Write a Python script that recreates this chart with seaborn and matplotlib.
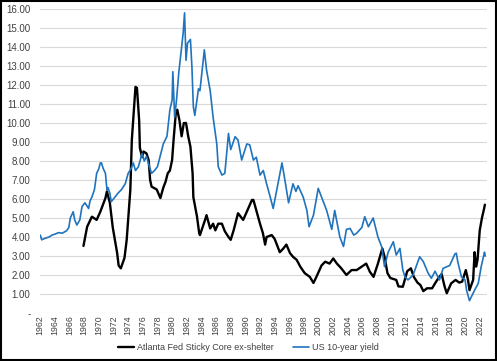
import numpy as np
import pandas as pd
import matplotlib
matplotlib.use('Agg')
import matplotlib.pyplot as plt
import seaborn as sns
from matplotlib.ticker import FuncFormatter, MultipleLocator
from matplotlib.patches import Rectangle

# Atlanta Fed Sticky Core ex-shelter
core_ano = [1967.9, 1968.4, 1969.05, 1969.7, 1970.2, 1970.9, 1971.1, 1971.5, 1971.9, 1972.5,
            1972.7, 1973.0, 1973.5, 1973.8, 1974.3, 1974.5, 1975.0, 1975.2, 1975.5, 1975.6,
            1975.9, 1976.1, 1976.5, 1976.8, 1977.0, 1977.2, 1977.9, 1978.4, 1978.8, 1979.1,
            1979.4, 1979.7, 1980.0, 1980.2, 1980.5, 1980.7, 1981.0, 1981.3, 1981.6, 1981.9,
            1982.2, 1982.5, 1982.8, 1982.9, 1983.4, 1983.7, 1983.8, 1984.5, 1984.7, 1985.2,
            1985.6, 1985.9, 1986.3, 1986.8, 1987.2, 1987.7, 1988.0, 1988.4, 1989.0, 1989.7,
            1990.2, 1990.9, 1991.1, 1991.5, 1992.0, 1992.4, 1992.7, 1992.9, 1993.6, 1994.0,
            1994.7, 1995.2, 1995.6, 1996.1, 1996.5, 1997.0, 1997.5, 1998.1, 1998.8, 1999.3,
            1999.7, 2000.4, 2000.9, 2001.5, 2002.0, 2002.5, 2003.1, 2003.8, 2004.5, 2005.2,
            2005.9, 2006.5, 2007.0, 2007.5, 2008.1, 2008.7, 2009.0, 2009.4, 2009.8, 2010.6,
            2010.9, 2011.5, 2012.1, 2012.6, 2013.0, 2013.5, 2013.9, 2014.3, 2014.8, 2015.5,
            2015.9, 2016.3, 2016.8, 2017.2, 2017.5, 2018.1, 2018.7, 2019.2, 2019.6, 2020.1,
            2020.4, 2020.6, 2021.1, 2021.3, 2021.5, 2021.7, 2022.0, 2022.3, 2022.6, 2022.7]
core_val = [3.53, 4.54, 5.07, 4.9, 5.33, 6.05, 6.4, 5.8, 4.5, 3.15,
            2.5, 2.35, 2.9, 3.85, 6.5, 9.1, 11.9, 11.85, 10.15, 8.7,
            8.2, 8.5, 8.4, 8.05, 7.0, 6.65, 6.5, 6.05, 6.6, 6.9,
            7.35, 7.5, 8.05, 9.1, 10.5, 10.7, 10.15, 9.3, 10.0, 10.0,
            9.3, 8.75, 7.35, 6.1, 5.07, 4.2, 4.1, 4.9, 5.15, 4.45,
            4.7, 4.35, 4.7, 4.7, 4.3, 4.0, 3.85, 4.35, 5.25, 4.9,
            5.33, 5.95, 5.95, 5.4, 4.7, 4.2, 3.6, 4.0, 4.1, 3.9,
            3.2, 3.4, 3.6, 3.15, 2.96, 2.8, 2.44, 2.1, 1.9, 1.58,
            1.9, 2.5, 2.7, 2.6, 2.87, 2.6, 2.35, 2.0, 2.26, 2.26,
            2.44, 2.6, 2.17, 1.9, 2.6, 3.4, 2.97, 2.1, 1.84, 1.74,
            1.4, 1.38, 2.2, 2.35, 1.9, 1.6, 1.47, 1.15, 1.3, 1.3,
            1.56, 1.8, 2.05, 1.4, 1.04, 1.56, 1.74, 1.6, 1.65, 2.26,
            1.74, 1.2, 1.74, 3.2, 2.44, 2.8, 4.35, 5.0, 5.5, 5.7]

# US 10-year yield
yield_ano = [1962.0, 1962.2, 1962.45, 1962.8, 1963.2, 1963.6, 1964.0, 1964.5, 1965.0, 1965.6,
             1965.9, 1966.1, 1966.5, 1966.7, 1967.0, 1967.4, 1967.7, 1968.1, 1968.6, 1968.8,
             1969.05, 1969.4, 1969.7, 1970.0, 1970.2, 1970.35, 1970.6, 1970.9, 1971.1, 1971.25,
             1971.5, 1971.7, 1972.2, 1972.6, 1973.1, 1973.6, 1974.0, 1974.4, 1974.7, 1975.0,
             1975.4, 1975.9, 1976.2, 1976.5, 1976.9, 1977.2, 1977.6, 1978.0, 1978.4, 1978.8,
             1979.3, 1979.7, 1980.0, 1980.1, 1980.35, 1980.6, 1980.9, 1981.3, 1981.5, 1981.7,
             1981.9, 1982.1, 1982.5, 1982.7, 1982.9, 1983.1, 1983.6, 1983.8, 1984.4, 1984.7,
             1985.2, 1985.6, 1986.1, 1986.3, 1986.8, 1987.2, 1987.7, 1988.0, 1988.6, 1989.0,
             1989.5, 1990.2, 1990.6, 1991.1, 1991.5, 1992.0, 1992.45, 1992.9, 1993.4, 1993.8,
             1994.3, 1995.0, 1995.4, 1995.9, 1996.5, 1996.9, 1997.2, 1997.9, 1998.4, 1998.7,
             1999.3, 1999.95, 2000.4, 2001.1, 2001.8, 2002.2, 2002.9, 2003.4, 2003.8, 2004.3,
             2004.8, 2005.2, 2005.9, 2006.3, 2006.8, 2007.45, 2008.1, 2008.6, 2009.0, 2009.5,
             2010.2, 2010.6, 2011.1, 2011.5, 2011.8, 2012.2, 2012.9, 2013.8, 2014.3, 2014.95,
             2015.4, 2015.9, 2016.5, 2017.0, 2017.9, 2018.6, 2018.8, 2019.0, 2019.5, 2020.0,
             2020.2, 2020.6, 2021.3, 2021.8, 2022.2, 2022.5, 2022.65, 2022.75]
yield_val = [4.1, 3.85, 3.9, 3.95, 4.0, 4.1, 4.15, 4.23, 4.2, 4.33,
             4.5, 5.0, 5.33, 4.9, 4.63, 4.9, 5.6, 5.8, 5.5, 5.9,
             6.1, 6.5, 7.35, 7.6, 7.9, 7.9, 7.6, 7.35, 6.5, 6.6,
             6.3, 5.86, 6.1, 6.3, 6.5, 6.8, 7.35, 7.6, 7.9, 7.5,
             7.7, 8.4, 8.0, 8.25, 7.7, 7.35, 7.5, 7.7, 8.3, 8.9,
             9.3, 10.7, 11.2, 12.7, 10.3, 11.2, 12.6, 14.0, 14.7, 15.8,
             13.3, 14.2, 14.4, 13.0, 10.85, 10.4, 11.8, 11.7, 13.85, 12.8,
             11.7, 10.3, 8.9, 7.7, 7.26, 7.35, 9.45, 8.6, 9.28, 9.1,
             8.05, 8.9, 8.85, 8.05, 8.2, 7.26, 7.5, 6.8, 6.1, 5.5,
             6.5, 7.9, 7.0, 5.8, 6.8, 6.4, 6.7, 6.1, 5.4, 4.54,
             5.15, 6.56, 6.1, 5.4, 4.4, 5.4, 4.0, 3.5, 4.4, 4.45,
             4.1, 4.2, 4.5, 5.07, 4.54, 5.0, 4.0, 3.5, 2.44, 3.2,
             3.75, 3.05, 3.4, 2.26, 1.9, 1.74, 2.0, 2.96, 2.7, 2.1,
             1.83, 2.2, 1.74, 2.35, 2.5, 3.1, 3.15, 2.7, 1.9, 1.74,
             1.2, 0.65, 1.2, 1.56, 2.44, 2.96, 3.2, 3.0]

preto = '#000000'
azul = '#1f74bd'

sns.set_style('white')
plt.rcParams['font.family'] = ['Liberation Sans', 'DejaVu Sans']

fig = plt.figure(figsize=(4.97, 3.61), dpi=100)
ax = fig.add_axes([0.081, 0.133, 0.899, 0.842])

df_core = pd.DataFrame({'Ano': core_ano, 'Valor': core_val})
df_yield = pd.DataFrame({'Ano': yield_ano, 'Valor': yield_val})
sns.lineplot(data=df_core, x='Ano', y='Valor', color=preto, lw=1.7, estimator=None,
             sort=False, ax=ax, label='Atlanta Fed Sticky Core ex-shelter', legend=False)
sns.lineplot(data=df_yield, x='Ano', y='Valor', color=azul, lw=1.2, estimator=None,
             sort=False, ax=ax, label='US 10-year yield', legend=False)

ax.set_xlim(1962, 2023)
ax.set_ylim(0, 16)
ax.yaxis.set_major_locator(MultipleLocator(1))
ax.yaxis.set_major_formatter(FuncFormatter(lambda v, p: '-' if abs(v) < 1e-9 else f'{v:.2f}'))
anos = list(range(1962, 2023, 2))
ax.set_xticks(anos)
ax.set_xticklabels([str(a) for a in anos], rotation=90, fontsize=6.3, color='#404040')
ax.tick_params(axis='y', labelsize=7, colors='#404040', length=0, pad=7)
ax.tick_params(axis='x', length=0, pad=1.5)
ax.grid(axis='y', color='#d9d9d9', lw=0.8)
ax.grid(axis='x', visible=False)
for s in ax.spines.values():
    s.set_visible(False)
ax.set_xlabel('')
ax.set_ylabel('')

handles, labels = ax.get_legend_handles_labels()
fig.legend(handles, labels, loc='center', bbox_to_anchor=(0.5, 0.038), ncol=2, frameon=False,
           fontsize=6.5, handlelength=1.8, handletextpad=0.3, columnspacing=2.1,
           labelcolor='#404040', borderpad=0.1)

fig.patches.append(Rectangle((0.002, 0.003), 0.996, 0.994, transform=fig.transFigure,
                             fill=False, edgecolor='black', lw=1.5))

fig.savefig('out.png', dpi=100)
